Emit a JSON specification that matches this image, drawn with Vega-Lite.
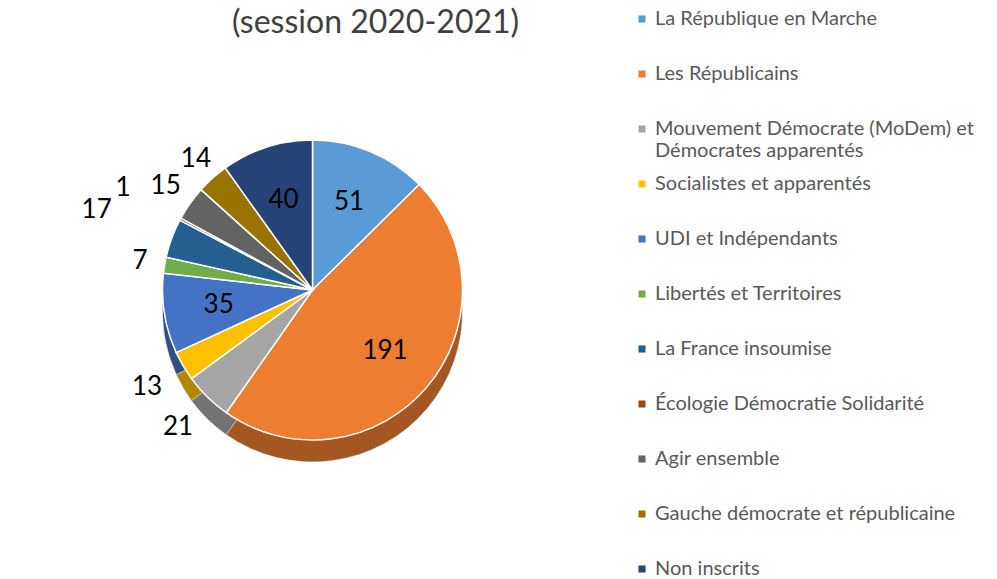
{
  "$schema": "https://vega.github.io/schema/vega-lite/v6.json",
  "width": 625,
  "height": 490,
  "padding": {"left": 0, "top": 45, "right": 372, "bottom": 44},
  "autosize": {"type": "none"},
  "background": "white",
  "title": {"text": "(session 2020-2021)", "fontSize": 32, "font": "Lato", "fontWeight": "normal", "color": "#404040", "dx": 63, "offset": 0, "dy": 31},
  "data": {"values": [
    {"ordre": 1, "groupe": "La République en Marche", "sieges": 51},
    {"ordre": 2, "groupe": "Les Républicains", "sieges": 191},
    {"ordre": 3, "groupe": "Mouvement Démocrate (MoDem) et Démocrates apparentés", "sieges": 21},
    {"ordre": 4, "groupe": "Socialistes et apparentés", "sieges": 13},
    {"ordre": 5, "groupe": "UDI et Indépendants", "sieges": 35},
    {"ordre": 6, "groupe": "Libertés et Territoires", "sieges": 7},
    {"ordre": 7, "groupe": "La France insoumise", "sieges": 17},
    {"ordre": 8, "groupe": "Écologie Démocratie Solidarité", "sieges": 1},
    {"ordre": 9, "groupe": "Agir ensemble", "sieges": 15},
    {"ordre": 10, "groupe": "Gauche démocrate et républicaine", "sieges": 14},
    {"ordre": 11, "groupe": "Non inscrits", "sieges": 40}
  ]},
  "encoding": {
    "theta": {"field": "sieges", "type": "quantitative", "stack": true},
    "order": {"field": "ordre", "type": "quantitative"},
    "color": {
      "field": "groupe", "type": "nominal",
      "scale": {
        "domain": ["La République en Marche", "Les Républicains", "Mouvement Démocrate (MoDem) et Démocrates apparentés", "Socialistes et apparentés", "UDI et Indépendants", "Libertés et Territoires", "La France insoumise", "Écologie Démocratie Solidarité", "Agir ensemble", "Gauche démocrate et républicaine", "Non inscrits"],
        "range": ["#5B9BD5", "#ED7D31", "#A5A5A5", "#FFC000", "#4472C4", "#70AD47", "#255E91", "#9E480E", "#636363", "#997300", "#264478"]
      },
      "legend": {
        "title": null, "orient": "none", "legendX": 632, "legendY": -36,
        "symbolType": "square", "symbolSize": 50, "symbolStrokeWidth": 0,
        "labelFontSize": 20, "labelFont": "Lato", "labelColor": "#595959", "labelLimit": 400,
        "labelOffset": 3, "rowPadding": 13, "gridAlign": "all",
        "labelExpr": "datum.label == 'Mouvement Démocrate (MoDem) et Démocrates apparentés' ? ['Mouvement Démocrate (MoDem) et', 'Démocrates apparentés'] : datum.label"
      }
    }
  },
  "layer": [
    {
      "mark": {"type": "arc", "outerRadius": 150, "yOffset": 22, "stroke": "white", "strokeWidth": 1}
    },
    {
      "mark": {"type": "arc", "outerRadius": 150, "yOffset": 22, "fill": "#000000", "fillOpacity": 0.3, "stroke": null},
      "encoding": {"color": {"value": "#000000"}}
    },
    {
      "mark": {"type": "arc", "outerRadius": 150, "stroke": "white", "strokeWidth": 1.5}
    },
    {
      "mark": {"type": "text", "radius": {"expr": "datum.sieges >= 30 ? 95 : datum.sieges == 17 ? 230 : datum.sieges == 1 ? 215 : datum.sieges == 15 ? 180 : datum.sieges == 21 || datum.sieges == 13 ? 192 : 175"}, "fontSize": 26, "font": "Lato"},
      "encoding": {"text": {"field": "sieges", "type": "quantitative"}, "color": {"value": "#000000"}}
    }
  ],
  "view": {"stroke": null}
}
